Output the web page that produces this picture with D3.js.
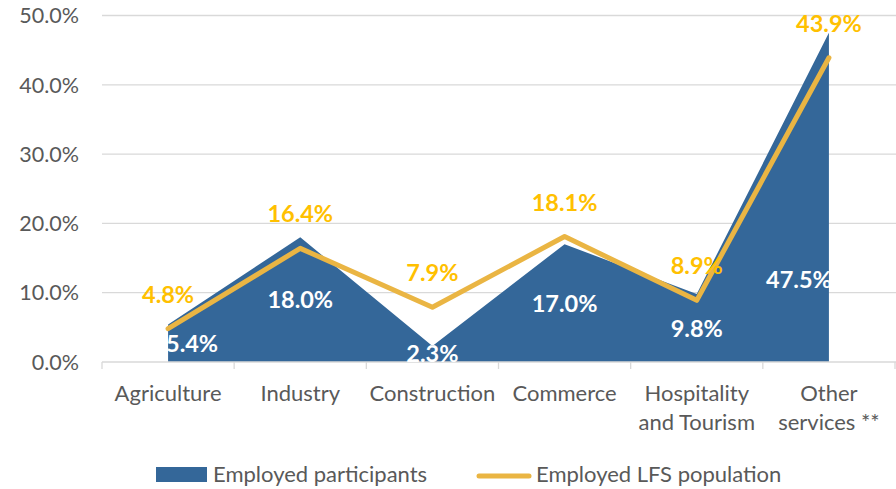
<!DOCTYPE html>
<html>
<head>
<meta charset="utf-8">
<script src="https://cdn.jsdelivr.net/npm/d3@7"></script>
<style>
  body { margin: 0; background: #fff; }
  svg { display: block; font-family: Lato, "Open Sans", sans-serif; }
</style>
</head>
<body>
<svg width="896" height="489"></svg>
<script>
// chart data
var categories = ["Agriculture", "Industry", "Construction", "Commerce", "Hospitality\nand Tourism", "Other\nservices **"];
var participants = [5.4, 18.0, 2.3, 17.0, 9.8, 47.5];
var lfsPopulation = [4.8, 16.4, 7.9, 18.1, 8.9, 43.9];
var yTicks = [0, 10, 20, 30, 40, 50];
var seriesNames = ["Employed participants", "Employed LFS population"];

var blue = "#346799";
var gold = "#eab543";
var labelGold = "#ffc000";

var svg = d3.select("svg");

var x = d3.scaleBand()
	.domain(categories)
	.range([102, 895]);

var y = d3.scaleLinear()
	.domain([0, 50])
	.range([362, 15.5]);

function cx(d, i) { return x(categories[i]) + x.bandwidth() / 2; }

//grid
svg.append("g")
	.selectAll("line")
	.data(yTicks.slice(1))
	.enter().append("line")
	.attr("x1", 102)
	.attr("x2", 896)
	.attr("y1", function(d) { return y(d); })
	.attr("y2", function(d) { return y(d); })
	.attr("stroke", "#d9d9d9")
	.attr("stroke-width", 1.3);

//y axis labels
svg.append("g")
	.selectAll("text")
	.data(yTicks)
	.enter().append("text")
	.attr("x", 79)
	.attr("y", function(d) { return y(d); })
	.attr("dy", "0.36em")
	.attr("text-anchor", "end")
	.attr("font-size", "21.5px")
	.attr("fill", "#595959")
	.text(function(d) { return d.toFixed(1) + "%"; });

//area
var area = d3.area()
	.x(cx)
	.y0(y(0))
	.y1(function(d) { return y(d); });

svg.append("path")
	.datum(participants)
	.attr("d", area)
	.attr("fill", blue);

svg.append("defs").append("clipPath")
	.attr("id", "areaClip")
	.append("path")
	.datum(participants)
	.attr("d", area);

//x axis
svg.append("line")
	.attr("x1", 102)
	.attr("x2", 896)
	.attr("y1", y(0))
	.attr("y2", y(0))
	.attr("stroke", "#d9d9d9")
	.attr("stroke-width", 1.3);

svg.append("g")
	.selectAll("line")
	.data(categories.concat([null]))
	.enter().append("line")
	.attr("x1", function(d, i) { return x.range()[0] + i * x.bandwidth(); })
	.attr("x2", function(d, i) { return x.range()[0] + i * x.bandwidth(); })
	.attr("y1", y(0))
	.attr("y2", y(0) + 7)
	.attr("stroke", "#d9d9d9")
	.attr("stroke-width", 1.3);

var catText = svg.append("g")
	.selectAll("text")
	.data(categories)
	.enter().append("text")
	.attr("text-anchor", "middle")
	.attr("font-size", "22px")
	.attr("fill", "#595959");

catText.each(function(d, i) {
	var lines = d.split("\n");
	var t = d3.select(this);
	lines.forEach(function(l, j) {
		t.append("tspan")
			.attr("x", cx(d, i))
			.attr("y", 401 + j * 29)
			.text(l);
	});
});

//line
var line = d3.line()
	.x(cx)
	.y(function(d) { return y(d); });

svg.append("path")
	.datum(lfsPopulation)
	.attr("d", line)
	.attr("fill", "none")
	.attr("stroke", gold)
	.attr("stroke-width", 5)
	.attr("stroke-linejoin", "round")
	.attr("stroke-linecap", "round");

//area labels (white, at the middle of the area)
svg.append("g")
	.attr("clip-path", "url(#areaClip)")
	.selectAll("text")
	.data(participants)
	.enter().append("text")
	.attr("x", function(d, i) {
		if (i == 0) return cx(d, i) + 24;
		if (i == participants.length - 1) return cx(d, i) - 30;
		return cx(d, i);
	})
	.attr("y", function(d, i) {
		if (i == participants.length - 1) return y(d / 4);
		return y(d / 2);
	})
	.attr("dy", "0.36em")
	.attr("text-anchor", "middle")
	.attr("font-size", "23.5px")
	.attr("font-weight", "bold")
	.attr("fill", "#fff")
	.text(function(d) { return d.toFixed(1) + "%"; });

//line labels
svg.append("g")
	.selectAll("text")
	.data(lfsPopulation)
	.enter().append("text")
	.attr("x", cx)
	.attr("y", function(d) { return y(d) - 26; })
	.attr("text-anchor", "middle")
	.attr("font-size", "23.5px")
	.attr("font-weight", "bold")
	.attr("fill", labelGold)
	.text(function(d) { return d.toFixed(1) + "%"; });

//legend
var legend = svg.append("g");

legend.append("rect")
	.attr("x", 156)
	.attr("y", 467)
	.attr("width", 51)
	.attr("height", 15)
	.attr("fill", blue);

legend.append("text")
	.attr("x", 213)
	.attr("y", 474)
	.attr("dy", "0.36em")
	.attr("font-size", "22px")
	.attr("fill", "#595959")
	.text(seriesNames[0]);

legend.append("line")
	.attr("x1", 479)
	.attr("x2", 529)
	.attr("y1", 476)
	.attr("y2", 476)
	.attr("stroke", gold)
	.attr("stroke-width", 5)
	.attr("stroke-linecap", "round");

legend.append("text")
	.attr("x", 536)
	.attr("y", 474)
	.attr("dy", "0.36em")
	.attr("font-size", "22px")
	.attr("fill", "#595959")
	.text(seriesNames[1]);
</script>
</body>
</html>
